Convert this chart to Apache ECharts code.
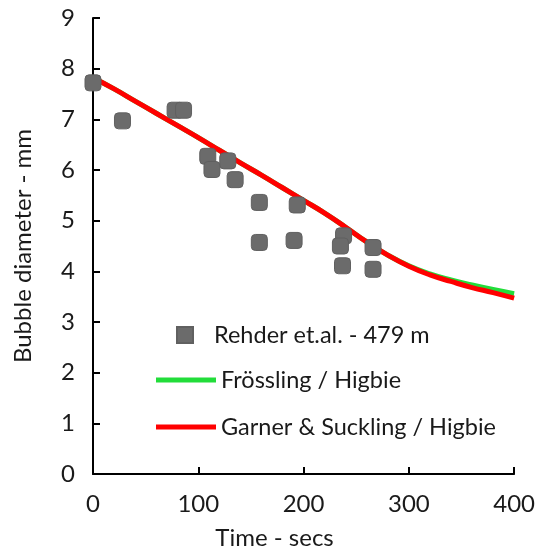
<!DOCTYPE html>
<html>
<head>
<meta charset="utf-8">
<script src="https://cdn.jsdelivr.net/npm/echarts@6/dist/echarts.min.js"></script>
<style>
  html, body { margin: 0; padding: 0; background: #fff; }
  #chart { width: 538px; height: 558px; }
</style>
</head>
<body>
<div id="chart"></div>
<script>
// Measured bubble diameters (time in s, diameter in mm)
const obsTime = [0, 28, 78, 86, 109, 113, 128, 135, 158, 158, 194, 191, 238, 235, 237, 266, 266];
const obsDiam = [7.72, 6.97, 7.18, 7.18, 6.27, 6.01, 6.18, 5.81, 5.36, 4.57, 5.31, 4.61, 4.70, 4.50, 4.11, 4.47, 4.04];

// Model predictions
const modelTime = [0, 20, 40, 60, 80, 100, 120, 140, 160, 180, 200, 220, 240, 260, 280, 300, 320, 340, 360, 380, 400];
const frosslingDiam = [7.82, 7.60, 7.36, 7.12, 6.88, 6.64, 6.39, 6.14, 5.90, 5.65, 5.40, 5.15, 4.87, 4.58, 4.32, 4.11, 3.95, 3.83, 3.73, 3.64, 3.56];
const garnerDiam = [7.82, 7.60, 7.36, 7.12, 6.88, 6.64, 6.39, 6.14, 5.90, 5.65, 5.40, 5.15, 4.87, 4.58, 4.32, 4.10, 3.93, 3.80, 3.68, 3.58, 3.47];

const xTicks = [0, 100, 200, 300, 400];
const yTicks = [0, 1, 2, 3, 4, 5, 6, 7, 8, 9];

const names = ['Rehder et.al. - 479 m', 'Frössling / Higbie', 'Garner & Suckling / Higbie'];

const FONT = 'Lato';
const TXT = '#1a1a1a';
const LINE_ICON = 'path://M0,0 L60,0 L60,5 L0,5 Z';

const zip = (a, b) => a.map((v, i) => [v, b[i]]);

const legendText = { fontFamily: FONT, fontSize: 23.5, color: TXT };

const chart = echarts.init(document.getElementById('chart'), null, { renderer: 'canvas' });
chart.setOption({
  animation: false,
  backgroundColor: '#fff',
  grid: { left: 93, right: 21, top: 18, bottom: 84 },
  legend: [
    {
      left: 171, top: 318, itemWidth: 16, itemHeight: 16, selectedMode: false,
      data: [{ name: names[0], icon: 'rect' }],
      textStyle: Object.assign({ padding: [0, 0, 0, 16] }, legendText)
    },
    {
      left: 151, top: 363, itemWidth: 60, itemHeight: 5, selectedMode: false,
      data: [{ name: names[1], icon: LINE_ICON }],
      textStyle: legendText
    },
    {
      left: 151, top: 410, itemWidth: 60, itemHeight: 5, selectedMode: false,
      data: [{ name: names[2], icon: LINE_ICON }],
      textStyle: legendText
    }
  ],
  xAxis: {
    type: 'value', min: 0, max: 400, interval: 100,
    name: 'Time - secs', nameLocation: 'middle', nameGap: 52,
    nameTextStyle: { fontFamily: FONT, fontSize: 24, color: TXT, padding: [0, 58, 0, 0] },
    axisLine: { lineStyle: { color: '#000', width: 2 } },
    axisTick: { inside: true, length: 7, lineStyle: { color: '#000', width: 2 } },
    axisLabel: { fontFamily: FONT, fontSize: 24, color: TXT, margin: 18,
      formatter: v => xTicks.includes(v) ? String(v) : '' },
    splitLine: { show: false }
  },
  yAxis: {
    type: 'value', min: 0, max: 9, interval: 1,
    name: 'Bubble diameter - mm', nameLocation: 'middle', nameGap: 58,
    nameTextStyle: { fontFamily: FONT, fontSize: 24, color: TXT },
    axisLine: { show: true, lineStyle: { color: '#000', width: 2 } },
    axisTick: { show: true, inside: true, length: 7, lineStyle: { color: '#000', width: 2 } },
    axisLabel: { fontFamily: FONT, fontSize: 24, color: TXT, margin: 18,
      formatter: v => yTicks.includes(v) ? String(v) : '' },
    splitLine: { show: false }
  },
  series: [
    {
      name: names[1], type: 'line', data: zip(modelTime, frosslingDiam),
      smooth: true, symbol: 'none', clip: false,
      lineStyle: { color: '#22dd3a', width: 5 }, itemStyle: { color: '#22dd3a' }, z: 2
    },
    {
      name: names[2], type: 'line', data: zip(modelTime, garnerDiam),
      smooth: true, symbol: 'none', clip: false,
      lineStyle: { color: '#ff0000', width: 5 }, itemStyle: { color: '#ff0000' }, z: 3
    },
    {
      name: names[0], type: 'scatter', data: zip(obsTime, obsDiam),
      symbol: 'roundRect', symbolSize: 16, clip: false,
      itemStyle: { color: '#6b6b6b', borderColor: '#606060', borderWidth: 1, opacity: 1 }, z: 4
    }
  ]
});
</script>
</body>
</html>
